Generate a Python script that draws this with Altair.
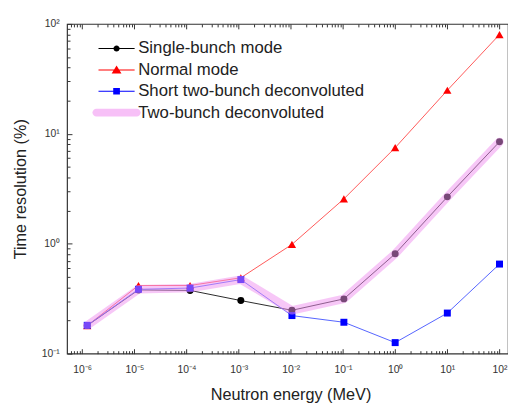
import json
import altair as alt
import pandas as pd

# ---------------- data ----------------
energy = [1.25e-6, 1.2e-5, 1.17e-4, 1.1e-3, 1.05e-2, 0.104, 1.0, 10.0, 100.0]
single_bunch = [0.18, 0.38, 0.376, 0.304, 0.248, 0.315, 0.81, 2.67, 8.46]
normal_mode = [0.18, 0.417, 0.417, 0.49, 0.986, 2.56, 7.48, 24.9, 80.0]
short_two_bunch = [0.181, 0.385, 0.395, 0.472, 0.222, 0.193, 0.126, 0.234, 0.653]
two_bunch = [0.181, 0.385, 0.395, 0.472, 0.248, 0.315, 0.81, 2.67, 8.46]

series_names = ["Single-bunch mode", "Normal mode",
                "Short two-bunch deconvoluted", "Two-bunch deconvoluted"]

x_major = [1e-6, 1e-5, 1e-4, 1e-3, 1e-2, 1e-1, 1e0, 1e1, 1e2]
x_tick_labels = ["10⁻⁶", "10⁻⁵", "10⁻⁴", "10⁻³", "10⁻²", "10⁻¹", "10⁰", "10¹", "10²"]
y_major = [0.1, 1.0, 10.0, 100.0]
y_tick_labels = ["10⁻¹", "10⁰", "10¹", "10²"]

x_minor = [k * 10.0 ** d for d in range(-7, 3) for k in range(2, 10)
           if 10 ** -6.29 < k * 10.0 ** d < 10 ** 2.16]
y_minor = [k * 10.0 ** d for d in range(-1, 2) for k in range(2, 10)]

rows = []
for name, vals in zip(series_names, [single_bunch, normal_mode, short_two_bunch, two_bunch]):
    for e, v in zip(energy, vals):
        rows.append({"energy": e, "value": v, "series": name})
df = pd.DataFrame(rows)

# ---------------- scales / axes ----------------
xscale = alt.Scale(type="log", domain=[10 ** -6.29, 10 ** 2.163], nice=False)
yscale = alt.Scale(type="log", domain=[0.1, 100], nice=False)

FONT = "Liberation Sans"

x_label_expr = f"{json.dumps(x_tick_labels, ensure_ascii=False)}[round(log(datum.value)/LN10) + 6]"
y_label_expr = f"{json.dumps(y_tick_labels, ensure_ascii=False)}[round(log(datum.value)/LN10) + 1]"


def tick_axis(orient, values, size, **kw):
    return alt.Axis(orient=orient, values=values, tickSize=size, offset=-size,
                    domain=False, grid=False, tickColor="#333", tickWidth=1, **kw)


x_bottom_major = tick_axis("bottom", x_major, 5, labels=True, labelExpr=x_label_expr,
                           labelPadding=11, labelFont=FONT, labelFontSize=10.5,
                           labelColor="#333", title="Neutron energy (MeV)",
                           titleFont=FONT, titleFontSize=16.5, titleFontWeight="normal",
                           titleColor="#222", titleBaseline="alphabetic",
                           titleY=52, titleX=227)
x_bottom_minor = tick_axis("bottom", x_minor, 3, labels=False, title="")
x_top_major = tick_axis("top", x_major, 5, labels=False, title="")
x_top_minor = tick_axis("top", x_minor, 3, labels=False, title="")

y_left_major = tick_axis("left", y_major, 5, labels=True, labelExpr=y_label_expr,
                         labelPadding=8, labelFont=FONT, labelFontSize=10.5,
                         labelColor="#333", title="Time resolution (%)",
                         titleFont=FONT, titleFontSize=16.5, titleFontWeight="normal",
                         titleColor="#222", titleAngle=270, titleBaseline="alphabetic",
                         titleX=-47.5)
y_left_minor = tick_axis("left", y_minor, 3, labels=False, title="")

# legend symbols (filled unit paths, scaled by sqrt(symbolSize)/2 = 5 px)
seg = "M-3.67,-0.1L3.67,-0.1L3.67,0.1L-3.67,0.1Z"
sym_circle = seg + "M0.62,0A0.62,0.62 0 1 1 -0.62,0A0.62,0.62 0 1 1 0.62,0Z"
sym_triangle = seg + "M0,-0.9L1,0.75L-1,0.75Z"
sym_square = seg + "M-0.68,-0.68L0.68,-0.68L0.68,0.68L-0.68,0.68Z"
sym_band = "M-4.1,-0.8L4.1,-0.8A0.8,0.8 0 0 1 4.1,0.8L-4.1,0.8A0.8,0.8 0 0 1 -4.1,-0.8Z"

color_scale = alt.Scale(domain=series_names, range=["#000000", "#ff0000", "#0000ff", "#f7c0f7"])
shape_scale = alt.Scale(domain=series_names, range=[sym_circle, sym_triangle, sym_square, sym_band])

legend = alt.Legend(
    orient="none", legendX=41.8, legendY=16.5, title=None, padding=0,
    labelFont=FONT, labelFontSize=17, labelColor="#222", labelLimit=400,
    labelOffset=13.5, rowPadding=3.7, symbolSize=100, symbolStrokeWidth=0,
    symbolOpacity=1,
)


def enc(chart, xaxis=None, yaxis=None):
    return chart.encode(
        x=alt.X("energy:Q", scale=xscale, axis=xaxis),
        y=alt.Y("value:Q", scale=yscale, axis=yaxis),
    )


def sub(name):
    return df[df.series == name]


# ---------------- layers ----------------
red = enc(alt.Chart(sub("Normal mode")).mark_line(color="#ff4545", strokeWidth=0.9),
          x_bottom_major, y_left_major)
black = enc(alt.Chart(sub("Single-bunch mode")).mark_line(color="#111111", strokeWidth=0.9),
            x_bottom_minor, y_left_minor)
blue = enc(alt.Chart(sub("Short two-bunch deconvoluted")).mark_line(color="#4050ff", strokeWidth=0.9),
           x_top_major)
red_pts = enc(alt.Chart(sub("Normal mode")).mark_point(
    shape="triangle-up", filled=True, color="#ff0000", opacity=1, size=70), x_top_minor)
black_pts = enc(alt.Chart(sub("Single-bunch mode")).mark_point(
    shape="circle", filled=True, color="#000000", opacity=1, size=50))
blue_pts = enc(alt.Chart(sub("Short two-bunch deconvoluted")).mark_point(
    shape="square", filled=True, color="#0000ff", opacity=1, size=50))
pink = enc(alt.Chart(sub("Two-bunch deconvoluted")).mark_line(
    color="#f090f0", strokeWidth=8.5, opacity=0.5, strokeCap="round", strokeJoin="round"))

legend_layer = alt.Chart(df).transform_filter("false").mark_point(
    filled=True, opacity=1).encode(
    x=alt.X("energy:Q", scale=xscale, axis=None),
    y=alt.Y("value:Q", scale=yscale, axis=None),
    color=alt.Color("series:N", scale=color_scale, legend=legend),
    shape=alt.Shape("series:N", scale=shape_scale, legend=legend),
)

chart = alt.layer(red, black, blue, red_pts, black_pts, blue_pts, pink, legend_layer).resolve_axis(
    x="independent", y="independent"
).properties(
    width=448, height=335,
    autosize=alt.AutoSizeParams(type="none"),
    padding={"left": 60, "top": 13, "right": 0, "bottom": 49},
).configure_view(stroke="#333", strokeWidth=1.2)

chart.save("out.html", embed_options={"renderer": "svg", "actions": False})
